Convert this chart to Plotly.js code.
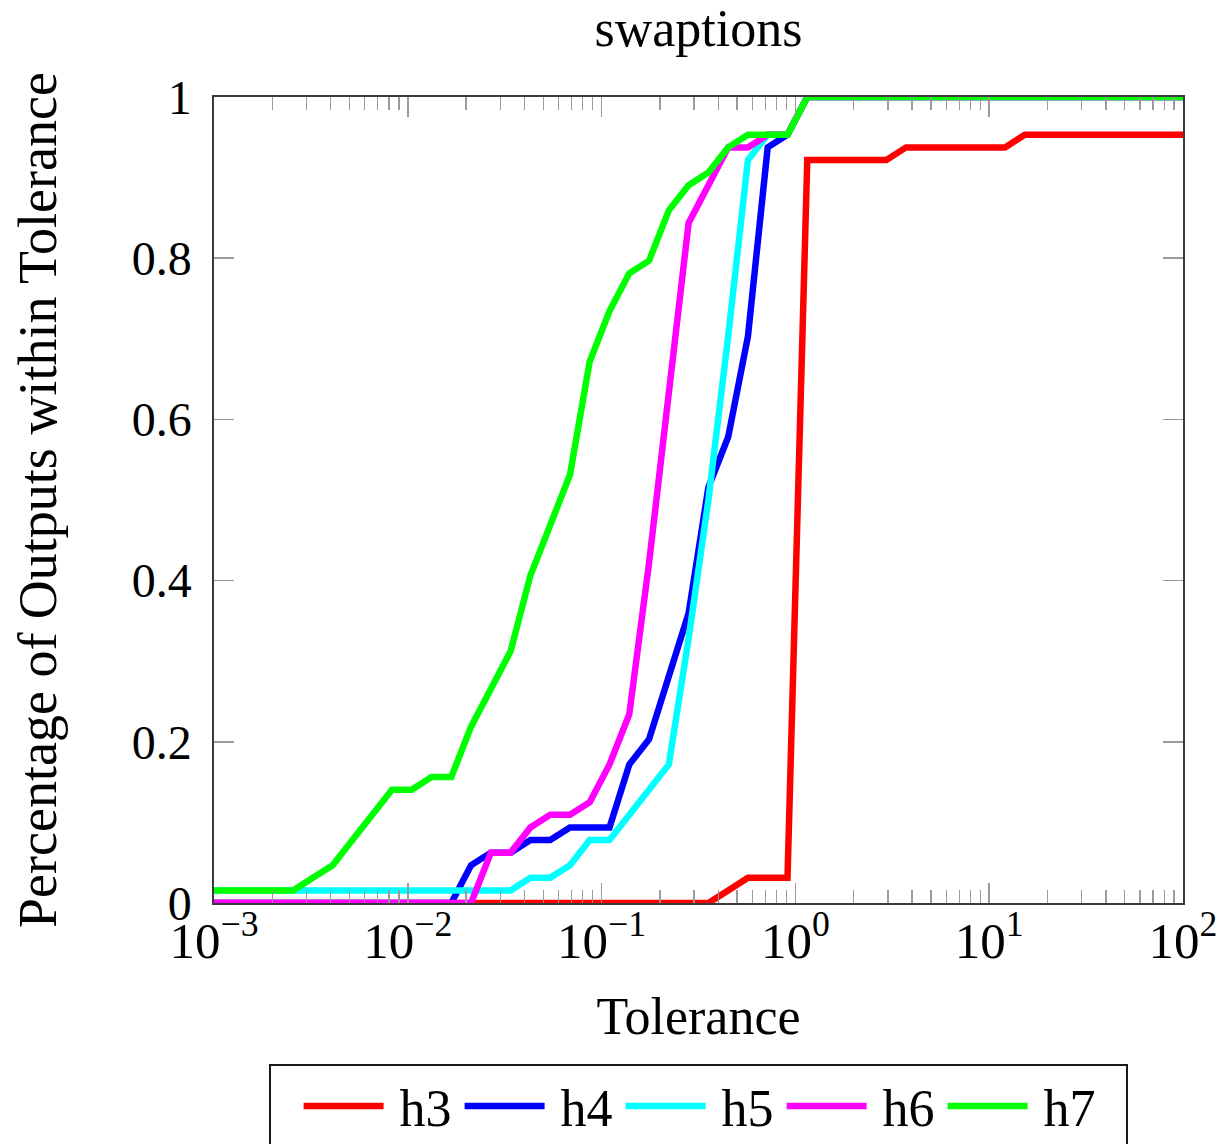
<!DOCTYPE html>
<html>
<head>
<meta charset="utf-8">
<script src="https://cdn.plot.ly/plotly-3.0.1.min.js"></script>
<style>
  html, body { margin: 0; padding: 0; background: #fff; }
  #chart { width: 1221px; height: 1144px; }
</style>
</head>
<body>
<div id="chart"></div>
<script>
// Tolerance grid (50 log-spaced values from 1e-3 to 1e2)
const tolerance = [
  0.001, 0.0012649, 0.0016, 0.0020236, 0.0025595, 0.0032375, 0.0040949, 0.0051795, 0.0065513, 0.0082864,
  0.010481, 0.013257, 0.016768, 0.02121, 0.026827, 0.033932, 0.042919, 0.054287, 0.068665, 0.086851,
  0.10985, 0.13895, 0.17575, 0.2223, 0.28118, 0.35565, 0.44984, 0.56898, 0.71969, 0.9103,
  1.1514, 1.4563, 1.8421, 2.33, 2.9471, 3.7276, 4.7149, 5.9636, 7.5431, 9.541,
  12.068, 15.264, 19.307, 24.421, 30.888, 39.069, 49.417, 62.506, 79.06, 100
];

// Fraction of outputs within tolerance, one array per configuration
const h3 = [
  0, 0, 0, 0, 0, 0, 0, 0, 0, 0,
  0, 0, 0, 0, 0, 0, 0, 0, 0, 0,
  0, 0, 0, 0, 0, 0, 0.0156, 0.0313, 0.0313, 0.0313,
  0.9219, 0.9219, 0.9219, 0.9219, 0.9219, 0.9375, 0.9375, 0.9375, 0.9375, 0.9375,
  0.9375, 0.9531, 0.9531, 0.9531, 0.9531, 0.9531, 0.9531, 0.9531, 0.9531, 0.9531
];
const h4 = [
  0, 0, 0, 0, 0, 0, 0, 0, 0, 0,
  0, 0, 0, 0.0469, 0.0625, 0.0625, 0.0781, 0.0781, 0.0938, 0.0938,
  0.0938, 0.1719, 0.2031, 0.2813, 0.3594, 0.5156, 0.5781, 0.7031, 0.9375, 0.9531,
  1, 1, 1, 1, 1, 1, 1, 1, 1, 1,
  1, 1, 1, 1, 1, 1, 1, 1, 1, 1
];
const h5 = [
  0.0156, 0.0156, 0.0156, 0.0156, 0.0156, 0.0156, 0.0156, 0.0156, 0.0156, 0.0156,
  0.0156, 0.0156, 0.0156, 0.0156, 0.0156, 0.0156, 0.0313, 0.0313, 0.0469, 0.0781,
  0.0781, 0.1094, 0.1406, 0.1719, 0.3281, 0.5, 0.7031, 0.9219, 0.9531, 0.9531,
  1, 1, 1, 1, 1, 1, 1, 1, 1, 1,
  1, 1, 1, 1, 1, 1, 1, 1, 1, 1
];
const h6 = [
  0, 0, 0, 0, 0, 0, 0, 0, 0, 0,
  0, 0, 0, 0, 0.0625, 0.0625, 0.0938, 0.1094, 0.1094, 0.125,
  0.1719, 0.2344, 0.4219, 0.625, 0.8438, 0.8906, 0.9375, 0.9375, 0.9531, 0.9531,
  1, 1, 1, 1, 1, 1, 1, 1, 1, 1,
  1, 1, 1, 1, 1, 1, 1, 1, 1, 1
];
const h7 = [
  0.0156, 0.0156, 0.0156, 0.0156, 0.0156, 0.0313, 0.0469, 0.0781, 0.1094, 0.1406,
  0.1406, 0.1563, 0.1563, 0.2188, 0.2656, 0.3125, 0.4063, 0.4688, 0.5313, 0.6719,
  0.7344, 0.7813, 0.7969, 0.8594, 0.8906, 0.9063, 0.9375, 0.9531, 0.9531, 0.9531,
  1, 1, 1, 1, 1, 1, 1, 1, 1, 1,
  1, 1, 1, 1, 1, 1, 1, 1, 1, 1
];

const seriesNames = ['h3', 'h4', 'h5', 'h6', 'h7'];
const seriesValues = [h3, h4, h5, h6, h7];
const seriesColors = ['#ff0000', '#0000ff', '#00ffff', '#ff00ff', '#00ff00'];

// Axis ticks
const xTickVals = [0.001, 0.01, 0.1, 1, 10, 100];
const xTickText = ['10<sup>−3</sup>', '10<sup>−2</sup>', '10<sup>−1</sup>', '10<sup>0</sup>', '10<sup>1</sup>', '10<sup>2</sup>'];
const yTickVals = [0, 0.2, 0.4, 0.6, 0.8, 1];
const yTickText = ['0', '0.2', '0.4', '0.6', '0.8', '1'];

// minor ticks at 2..9 within each decade
const xMinorVals = [];
for (let d = 0; d < xTickVals.length - 1; d++) {
  for (let m = 2; m <= 9; m++) xMinorVals.push(xTickVals[d] * m);
}

const FONT = 'Liberation Serif, Times New Roman, serif';
// legend sample line: starts at LEG_X0, LEG_LEN long, text after LEG_GAP
const LEG_X0 = 8;
const LEG_LEN = 80;
const LEG_GAP = 16;
const LEG_BOX_W = 857;

const traces = seriesNames.map((name, i) => ({
  type: 'scatter',
  mode: 'lines',
  name: name,
  x: tolerance,
  y: seriesValues[i],
  line: { color: seriesColors[i], width: 6.5, shape: 'linear' }
}));

const axisCommon = {
  showgrid: false,
  zeroline: false,
  showline: true,
  linecolor: '#3a3a3a',
  linewidth: 1.6,
  mirror: 'allticks',
  ticks: 'inside',
  tickcolor: '#9a9a9a',
  tickwidth: 1.5,
  ticklen: 20
};

const layout = {
  width: 1221,
  height: 1144,
  paper_bgcolor: '#fff',
  plot_bgcolor: '#fff',
  margin: { l: 214, r: 38, t: 97, b: 241, autoexpand: false },
  font: { family: FONT, color: '#000' },
  title: {
    text: 'swaptions',
    font: { family: FONT, size: 52, color: '#000' },
    xref: 'paper', x: 0.5, xanchor: 'center',
    yref: 'container', y: 0.976, yanchor: 'middle'
  },
  xaxis: Object.assign({}, axisCommon, {
    type: 'log',
    range: [-3, 2],
    tickmode: 'array',
    tickvals: xTickVals,
    ticktext: xTickText,
    tickfont: { family: FONT, size: 51, color: '#000' },
    ticklabelstandoff: -8,
    minor: {
      tickmode: 'array',
      tickvals: xMinorVals,
      ticks: 'inside',
      ticklen: 13,
      tickcolor: '#9a9a9a',
      tickwidth: 1.3,
      showgrid: false
    },
    title: { text: 'Tolerance', font: { family: FONT, size: 52, color: '#000' }, standoff: 30 }
  }),
  yaxis: Object.assign({}, axisCommon, {
    range: [0, 1],
    tickmode: 'array',
    tickvals: yTickVals,
    ticktext: yTickText,
    tickfont: { family: FONT, size: 48, color: '#000' },
    ticklabelstandoff: 11,
    title: { text: 'Percentage of Outputs within Tolerance', font: { family: FONT, size: 54, color: '#000' }, standoff: 58 }
  }),
  showlegend: true,
  legend: {
    orientation: 'h',
    x: 0.5, xanchor: 'center',
    y: -0.2, yanchor: 'top',
    font: { family: FONT, size: 52, color: '#000' },
    bgcolor: '#fff',
    bordercolor: '#1a1a1a',
    borderwidth: 1.6,
    itemwidth: LEG_X0 + LEG_LEN + LEG_GAP - 10,
    itemclick: false,
    itemdoubleclick: false
  }
};

Plotly.newPlot('chart', traces, layout, { staticPlot: true, displayModeBar: false }).then(gd => {
  // let the thick lines run over the frame instead of being cut at it
  gd.querySelectorAll('.cartesianlayer .plot, .cartesianlayer .plot *').forEach(el => {
    el.removeAttribute('clip-path');
  });
  // longer line samples in the legend
  gd.querySelectorAll('.legend .traces .js-line').forEach(el => {
    el.setAttribute('d', 'M' + LEG_X0 + ',0h' + LEG_LEN);
  });
  // widen the legend frame evenly on both sides
  const bg = gd.querySelector('.legend .bg');
  if (bg) {
    const w = parseFloat(bg.getAttribute('width'));
    const x = parseFloat(bg.getAttribute('x') || 0);
    if (w < LEG_BOX_W) {
      const d = (LEG_BOX_W - w) / 2;
      bg.setAttribute('x', x - d);
      bg.setAttribute('width', LEG_BOX_W);
    }
  }
});
</script>
</body>
</html>
